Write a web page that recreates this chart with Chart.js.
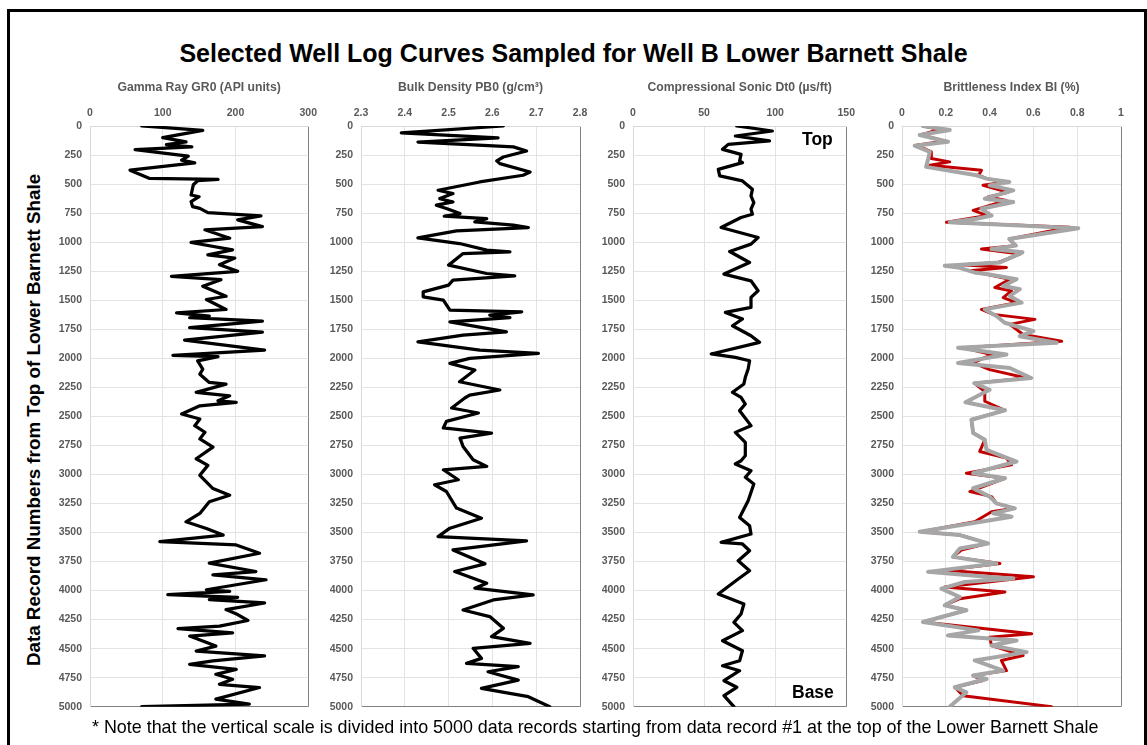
<!DOCTYPE html>
<html>
<head>
<meta charset="utf-8">
<script src="https://cdn.jsdelivr.net/npm/chart.js@4.4.0/dist/chart.umd.min.js"></script>
<style>
  body { margin: 0; width: 1147px; height: 745px; background: #fff; overflow: hidden; position: relative;
         font-family: 'Liberation Sans', Arial, sans-serif; }
  .frame { position: absolute; left: 7px; top: 9px; width: 1134px; height: 780px; border: 3px solid #000; }
  canvas { position: absolute; top: 75px; }
  #title { position: absolute; left: 0; width: 1147px; top: 38px; text-align: center; font-weight: bold;
           font-size: 25px; line-height: 30px; }
  #ytitle { position: absolute; left: -266px; top: 409px; width: 600px; height: 22px; line-height: 22px;
            text-align: center; font-weight: bold; font-size: 18.8px; transform: rotate(-90deg); }
  #note { position: absolute; left: 92px; top: 717px; font-size: 17.9px; line-height: 20px; white-space: nowrap; }
  .mark { position: absolute; font-weight: bold; font-size: 17.5px; line-height: 20px; }
</style>
</head>
<body>
<div class="frame"></div>
<div id="title">Selected Well Log Curves Sampled for Well B Lower Barnett Shale</div>
<div id="ytitle">Data Record Numbers from Top of Lower Barnett Shale</div>
<canvas id="c1" width="289" height="646" style="left:35px"></canvas>
<canvas id="c2" width="289" height="646" style="left:306px"></canvas>
<canvas id="c3" width="284" height="646" style="left:578px"></canvas>
<canvas id="c4" width="289" height="646" style="left:847px"></canvas>
<div class="mark" style="left:802px;top:129px">Top</div>
<div class="mark" style="left:792px;top:682px">Base</div>
<div id="note">* Note that the vertical scale is divided into 5000 data records starting from data record #1 at the top of the Lower Barnett Shale</div>
<script>
// [data record, value]
const gammaRay = [[0,71],[37,155],[100,100],[137,132],[160,105],[180,140],[203,62],[260,135],[294,126],[317,144],[380,55],[451,82],[460,176],[471,148],
  [506,142],[594,139],[609,150],[651,139],[694,141],[709,151],[746,162],[774,235],[808,203],[866,237],[894,158],[966,192],[1003,139],[1066,196],
  [1109,162],[1137,199],[1194,178],[1251,203],[1294,112],[1323,180],[1380,155],[1466,187],[1494,160],[1580,187],[1609,119],[1637,164],[1651,137],
  [1680,237],[1737,137],[1774,237],[1843,130],[1929,240],[1974,114],[1986,176],[2023,148],[2094,155],[2137,151],[2208,164],[2223,187],[2294,146],
  [2323,192],[2366,176],[2380,201],[2409,151],[2480,126],[2523,151],[2580,144],[2637,158],[2694,151],[2765,169],[2865,146],[2922,162],[3008,151],
  [3122,169],[3179,192],[3236,164],[3336,151],[3408,132],[3465,160],[3522,183],[3579,96],[3607,201],[3679,233],[3764,164],[3836,228],[3864,169],
  [3907,242],[3993,160],[4007,192],[4035,107],[4058,203],[4078,164],[4107,240],[4164,187],[4207,203],[4258,217],[4307,178],[4327,121],[4364,196],
  [4392,137],[4478,173],[4521,146],[4563,240],[4606,169],[4635,137],[4678,201],[4721,173],[4764,196],[4807,178],[4835,233],[4935,173],[4977,219],[5000,71]];

const bulkDensity = [[0,2.625],[60,2.392],[103,2.613],[138,2.43],[180,2.648],[215,2.678],[267,2.625],[300,2.61],[324,2.617],[396,2.686],[424,2.67],
  [482,2.571],[553,2.476],[582,2.51],[625,2.48],[654,2.51],[682,2.472],[711,2.495],[754,2.526],[777,2.49],[797,2.587],[826,2.56],[854,2.648],
  [874,2.682],[903,2.518],[963,2.43],[1012,2.525],[1069,2.587],[1084,2.64],[1098,2.533],[1198,2.5],[1270,2.587],[1290,2.651],[1327,2.51],[1370,2.5],
  [1428,2.442],[1471,2.442],[1499,2.488],[1585,2.503],[1600,2.667],[1628,2.594],[1649,2.64],[1686,2.503],[1772,2.632],[1800,2.533],[1858,2.43],
  [1930,2.571],[1958,2.705],[2001,2.548],[2044,2.503],[2101,2.56],[2202,2.525],[2273,2.617],[2317,2.548],[2342,2.537],[2428,2.507],[2471,2.568],
  [2543,2.495],[2600,2.488],[2644,2.598],[2687,2.526],[2759,2.533],[2874,2.556],[2931,2.587],[2960,2.488],[3046,2.522],[3089,2.468],[3147,2.495],
  [3290,2.518],[3377,2.575],[3463,2.503],[3535,2.476],[3572,2.678],[3650,2.51],[3770,2.583],[3836,2.514],[3937,2.587],[3980,2.56],[4038,2.693],
  [4081,2.602],[4167,2.533],[4224,2.594],[4325,2.625],[4397,2.598],[4454,2.686],[4497,2.556],[4584,2.575],[4627,2.541],[4655,2.659],[4699,2.59],
  [4771,2.659],[4842,2.575],[4914,2.682],[5000,2.731]];

const sonic = [[0,73],[43,98],[86,72],[129,96],[158,67],[201,63],[244,76],[301,75],[315,77],[373,60],[430,61],[473,77],[545,84],[602,83],[659,85],
  [716,83],[760,84],[788,76],[874,62],[960,88],[1017,83],[1081,68],[1175,82],[1275,64],[1333,83],[1419,88],[1476,83],[1562,83],[1605,65],[1662,77],
  [1720,70],[1806,83],[1863,89],[1963,55],[1992,72],[2021,82],[2092,81],[2164,79],[2221,78],[2293,70],[2336,76],[2394,79],[2451,75],[2580,83],
  [2638,72],[2724,79],[2839,79],[2882,76],[2910,72],[2968,83],[3025,79],[3083,85],[3226,81],[3370,75],[3441,82],[3513,83],[3585,62],[3599,77],
  [3657,82],[3743,74],[3829,82],[3900,74],[4030,60],[4116,78],[4202,76],[4274,71],[4345,77],[4432,63],[4518,77],[4604,75],[4647,63],[4690,75],
  [4776,64],[4833,73],[4905,64],[5000,71]];

const brittleGray = [[0,0.096],[35,0.218],[78,0.081],[136,0.21],[170,0.058],[222,0.127],[280,0.12],[352,0.11],[424,0.34],[453,0.386],[482,0.49],
  [511,0.40],[554,0.508],[626,0.378],[655,0.508],[713,0.363],[771,0.409],[799,0.34],[828,0.218],[880,0.805],[973,0.49],[1030,0.52],[1059,0.409],
  [1088,0.55],[1131,0.5],[1175,0.447],[1203,0.195],[1218,0.256],[1261,0.33],[1276,0.393],[1319,0.523],[1377,0.462],[1405,0.538],[1463,0.492],
  [1521,0.546],[1579,0.378],[1636,0.431],[1694,0.469],[1766,0.6],[1810,0.538],[1867,0.706],[1910,0.256],[1968,0.477],[2040,0.256],[2084,0.492],
  [2170,0.59],[2214,0.33],[2271,0.40],[2379,0.29],[2448,0.47],[2529,0.317],[2644,0.325],[2702,0.378],[2788,0.386],[2889,0.523],[2990,0.325],
  [3033,0.47],[3119,0.325],[3191,0.40],[3249,0.431],[3292,0.515],[3335,0.416],[3364,0.5],[3494,0.081],[3522,0.264],[3594,0.393],[3638,0.264],
  [3710,0.233],[3767,0.431],[3839,0.119],[3882,0.386],[3897,0.508],[3926,0.287],[3983,0.18],[4055,0.264],[4127,0.195],[4170,0.294],[4271,0.096],
  [4343,0.348],[4386,0.21],[4430,0.523],[4473,0.409],[4530,0.569],[4602,0.332],[4689,0.462],[4732,0.325],[4761,0.386],[4833,0.241],[4876,0.294],
  [5000,0.218]];

const brittleRed = [[0,0.096],[30,0.172],[75,0.088],[130,0.195],[165,0.066],[222,0.134],[280,0.134],[309,0.218],[338,0.127],[381,0.363],[424,0.35],
  [453,0.386],[482,0.477],[511,0.37],[570,0.485],[612,0.393],[641,0.477],[727,0.325],[771,0.39],[828,0.203],[872,0.767],[973,0.49],[1030,0.515],
  [1059,0.363],[1102,0.538],[1175,0.44],[1195,0.27],[1218,0.477],[1247,0.31],[1276,0.386],[1319,0.492],[1391,0.424],[1420,0.5],[1478,0.462],
  [1521,0.523],[1579,0.363],[1622,0.416],[1665,0.607],[1708,0.492],[1795,0.553],[1853,0.729],[1910,0.279],[1968,0.409],[2040,0.325],[2098,0.40],
  [2170,0.568],[2214,0.33],[2286,0.378],[2370,0.378],[2448,0.47],[2529,0.317],[2644,0.325],[2702,0.378],[2802,0.355],[2860,0.477],[2918,0.5],
  [2990,0.294],[3033,0.47],[3148,0.31],[3191,0.409],[3249,0.431],[3292,0.515],[3321,0.409],[3407,0.332],[3494,0.088],[3522,0.264],[3594,0.393],
  [3652,0.271],[3710,0.233],[3767,0.447],[3825,0.195],[3882,0.6],[3969,0.195],[4012,0.47],[4070,0.264],[4127,0.195],[4170,0.294],[4271,0.096],
  [4372,0.592],[4401,0.40],[4473,0.409],[4559,0.553],[4602,0.454],[4689,0.477],[4732,0.325],[4775,0.37],[4833,0.241],[4905,0.279],[5000,0.683]];

const depthTicks = { min: 0, max: 5000, step: 250 };

const labelFont = "'Liberation Sans', Arial, sans-serif";

function makePanel(id, curves, xMin, xMax, xStep, xTitle) {
  const isEdge = (v, edge) => Math.abs(v - edge) < 1e-9;
  new Chart(document.getElementById(id), {
    type: 'line',
    data: {
      datasets: curves.map(c => ({
        data: c.points.map(p => ({ x: p[1], y: p[0] })),
        borderColor: c.color,
        borderWidth: c.width,
        pointRadius: 0,
        tension: 0,
        fill: false,
        borderJoinStyle: 'round',
        borderCapStyle: 'round'
      }))
    },
    options: {
      responsive: false,
      animation: false,
      events: [],
      indexAxis: 'y',
      layout: { padding: { right: 15, bottom: 12 } },
      plugins: { legend: { display: false }, tooltip: { enabled: false } },
      scales: {
        x: {
          type: 'linear', position: 'top', min: xMin, max: xMax,
          ticks: { stepSize: xStep, maxRotation: 0, color: '#595959', padding: 7,
                   font: { family: labelFont, size: 10.5, weight: 'bold' },
                   callback: v => String(+v.toFixed(2)) },
          grid: { drawTicks: false, color: ctx => ctx.tick && isEdge(ctx.tick.value, xMax) ? '#808080' : '#e3e3e3' },
          border: { color: '#d9d9d9' },
          title: { display: true, text: xTitle, color: '#595959', padding: { top: 5, bottom: 4 },
                   font: { family: labelFont, size: 12.2, weight: 'bold' } },
          afterFit: s => { s.height = 51; }
        },
        y: {
          type: 'linear', position: 'left', reverse: true, min: depthTicks.min, max: depthTicks.max,
          ticks: { stepSize: depthTicks.step, autoSkip: false, color: '#595959', padding: 8,
                   font: { family: labelFont, size: 10.5, weight: 'bold' },
                   callback: v => String(v) },
          grid: { drawTicks: false, color: ctx => ctx.tick && ctx.tick.value === depthTicks.max ? '#808080' : '#e3e3e3' },
          border: { color: '#d9d9d9' },
          afterFit: s => { s.width = 55; }
        }
      }
    }
  });
}

makePanel('c1', [{ points: gammaRay, color: '#000', width: 3.25 }], 0, 300, 100, 'Gamma Ray GR0 (API units)');
makePanel('c2', [{ points: bulkDensity, color: '#000', width: 3.25 }], 2.3, 2.8, 0.1, 'Bulk Density PB0 (g/cm\u00B3)');
makePanel('c3', [{ points: sonic, color: '#000', width: 3.25 }], 0, 150, 50, 'Compressional Sonic Dt0 (\u00B5s/ft)');
makePanel('c4', [{ points: brittleGray, color: '#a6a6a6', width: 4 }, { points: brittleRed, color: '#c00000', width: 3 }],
          0, 1, 0.2, 'Brittleness Index BI (%)');
</script>
</body>
</html>
